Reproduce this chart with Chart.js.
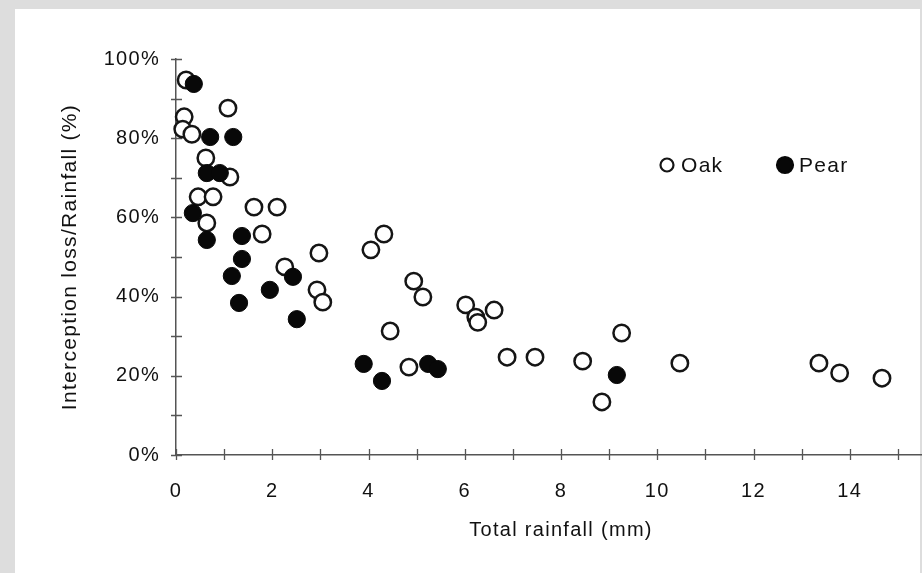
<!DOCTYPE html>
<html>
<head>
<meta charset="utf-8">
<script src="https://cdn.jsdelivr.net/npm/chart.js@4.4.0/dist/chart.umd.min.js"></script>
<style>
html, body { margin: 0; padding: 0; overflow: hidden; background: #dddddd; width: 922px; height: 573px; }
#panel { position: absolute; left: 15px; top: 9px; width: 905px; height: 564px; background: #fff; }
#chart { position: absolute; left: 0; top: 0; }
</style>
</head>
<body>
<div id="panel"></div>
<canvas id="chart" width="970" height="573"></canvas>
<script>
// rainfall (mm) and interception loss (%)
var oakX = [0.21, 1.08, 0.17, 0.14, 0.33, 0.62, 1.12, 0.46, 0.77, 1.62, 2.10, 0.64,
            1.79, 2.97, 2.26, 2.93, 3.05, 4.32, 4.05, 4.94, 5.13, 6.02, 6.61, 6.23,
            6.27, 4.45, 6.88, 4.84, 7.46, 8.45, 9.26, 8.85, 10.47, 13.36, 13.79, 14.67];
var oakY = [94.7, 87.6, 85.4, 82.3, 81.0, 75.0, 70.2, 65.2, 65.2, 62.6, 62.6, 58.6,
            55.8, 51.0, 47.5, 41.7, 38.6, 55.8, 51.8, 43.9, 39.9, 37.9, 36.6, 34.8,
            33.5, 31.3, 24.7, 22.2, 24.7, 23.7, 30.8, 13.4, 23.2, 23.2, 20.7, 19.4];
var pearX = [0.37, 0.71, 1.19, 0.64, 0.91, 0.35, 0.64, 1.37, 1.37, 1.16, 2.43, 1.95,
             1.31, 2.51, 3.90, 4.28, 5.24, 5.44, 9.16];
var pearY = [93.7, 80.3, 80.3, 71.2, 71.2, 61.1, 54.3, 55.3, 49.5, 45.2, 45.0, 41.7,
             38.4, 34.3, 23.0, 18.7, 23.0, 21.7, 20.2];

var seriesNames = ['Oak', 'Pear'];
var xTickStep = 1, xLabelStep = 2, xLabelMax = 14;
var yTickStep = 10, yLabelStep = 20;
var xTitle = 'Total rainfall (mm)';
var yTitle = 'Interception loss/Rainfall (%)';

function toPoints(xs, ys) {
    return xs.map(function(x, i) { return {x: x, y: ys[i]}; });
}

var axisColor = '#555';
var textColor = '#111';
var letterGap = '1.3px';
Chart.defaults.font.family = "'Liberation Sans', Arial, sans-serif";

// the scanned lettering is a bit wider than Arial
var spacing = {
    id: 'spacing',
    beforeLayout: function(chart) { chart.ctx.letterSpacing = letterGap; },
    beforeDraw: function(chart) { chart.ctx.letterSpacing = letterGap; }
};

// tick marks that cross the axis lines
var crossTicks = {
    id: 'crossTicks',
    beforeDatasetsDraw: function(chart) {
        var ctx = chart.ctx, x = chart.scales.x, y = chart.scales.y;
        ctx.save();
        ctx.strokeStyle = axisColor;
        ctx.lineWidth = 1.3;
        ctx.beginPath();
        y.ticks.forEach(function(t) {
            var py = Math.round(y.getPixelForValue(t.value)) + 0.5;
            ctx.moveTo(x.left - 5, py);
            ctx.lineTo(x.left + 6, py);
        });
        x.ticks.forEach(function(t) {
            var px = Math.round(x.getPixelForValue(t.value)) + 0.5;
            ctx.moveTo(px, y.bottom - 6);
            ctx.lineTo(px, y.bottom + 5);
        });
        ctx.stroke();
        ctx.restore();
    }
};

// legend sits inside the plot, upper right
var insideLegend = {
    id: 'insideLegend',
    afterDraw: function(chart) {
        var ctx = chart.ctx;
        var spots = [{x: 667, r: 6.5}, {x: 785, r: 8}];
        var ly = 165;
        ctx.save();
        ctx.letterSpacing = letterGap;
        ctx.font = "21px 'Liberation Sans', Arial, sans-serif";
        ctx.textBaseline = 'middle';
        chart.data.datasets.forEach(function(ds, i) {
            var s = spots[i];
            ctx.beginPath();
            ctx.arc(s.x, ly, s.r, 0, Math.PI * 2);
            ctx.fillStyle = ds.backgroundColor;
            ctx.fill();
            ctx.lineWidth = 2.2;
            ctx.strokeStyle = ds.borderColor;
            ctx.stroke();
            ctx.fillStyle = textColor;
            ctx.fillText(ds.label, s.x + 14, ly + 1);
        });
        ctx.restore();
    }
};

var ctx = document.getElementById('chart').getContext('2d');
var chart = new Chart(ctx, {
    type: 'scatter',
    data: {
        datasets: [
            {
                label: seriesNames[0],
                data: toPoints(oakX, oakY),
                backgroundColor: '#ffffff',
                borderColor: '#151515',
                borderWidth: 2.5,
                pointRadius: 8.2,
                order: 1,
                clip: false
            },
            {
                label: seriesNames[1],
                data: toPoints(pearX, pearY),
                backgroundColor: '#080808',
                borderColor: '#080808',
                borderWidth: 1,
                pointRadius: 8.6,
                order: 0,
                clip: false
            }
        ]
    },
    options: {
        responsive: false,
        animation: false,
        layout: {autoPadding: false, padding: {left: 0, top: 59, right: 1, bottom: 0}},
        plugins: {
            legend: {display: false},
            tooltip: {enabled: false}
        },
        scales: {
            x: {
                type: 'linear',
                min: 0,
                max: 16,
                border: {color: axisColor, width: 1.5},
                grid: {display: false, drawTicks: false},
                ticks: {
                    stepSize: xTickStep,
                    autoSkip: false,
                    maxRotation: 0,
                    padding: 24,
                    color: textColor,
                    font: {size: 20},
                    callback: function(v) {
                        return (v % xLabelStep === 0 && v <= xLabelMax) ? v : '';
                    }
                },
                title: {
                    display: true,
                    text: xTitle,
                    color: textColor,
                    font: {size: 20},
                    padding: {top: 0, bottom: 31}
                },
                afterFit: function(scale) { scale.height = 118; }
            },
            y: {
                min: 0,
                max: 100,
                border: {color: axisColor, width: 1.5},
                grid: {display: false, drawTicks: false},
                ticks: {
                    stepSize: yTickStep,
                    autoSkip: false,
                    padding: 16,
                    color: textColor,
                    font: {size: 20},
                    callback: function(v) {
                        return v % yLabelStep === 0 ? v + '%' : '';
                    }
                },
                title: {
                    display: true,
                    text: yTitle,
                    color: textColor,
                    font: {size: 21},
                    padding: {top: 58, bottom: 0}
                },
                afterFit: function(scale) { scale.width = 176; }
            }
        }
    },
    plugins: [spacing, crossTicks, insideLegend]
});
</script>
</body>
</html>
